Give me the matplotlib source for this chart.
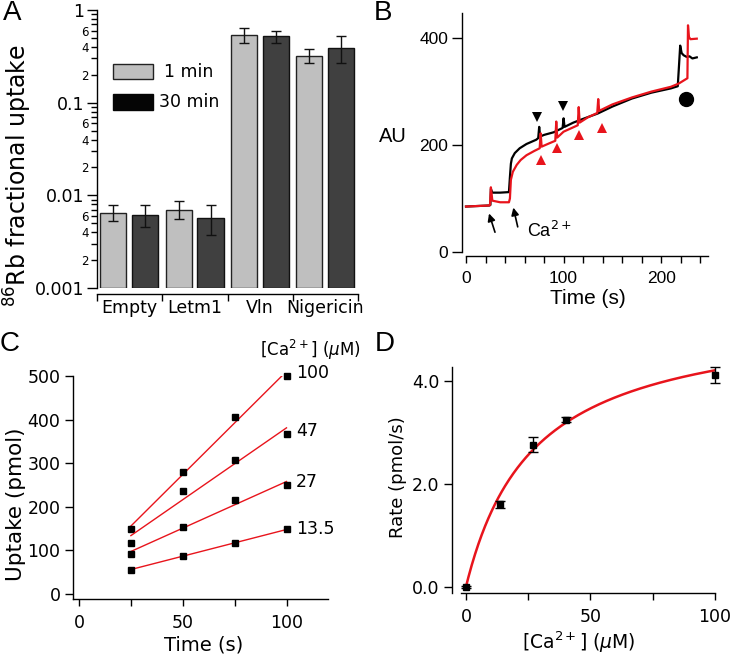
import numpy as np
import matplotlib
matplotlib.use("Agg")
import matplotlib.pyplot as plt
from matplotlib import ticker
from matplotlib.patches import Rectangle

plt.rcParams["font.family"] = ["DejaVu Sans"]
plt.rcParams["axes.linewidth"] = 1.0

W, H = 733, 657
RED = "#e8141c"
LIGHT = "#bfbfbf"
DARK = "#404040"

# ---- panel A: 86Rb uptake (log scale)
groups = ["Empty", "Letm1", "Vln", "Nigericin"]
up_1min = [0.0064, 0.0069, 0.54, 0.32]
up_1min_lo = [0.0053, 0.0055, 0.44, 0.27]
up_1min_hi = [0.0078, 0.0086, 0.64, 0.38]
up_30min = [0.0061, 0.0057, 0.52, 0.39]
up_30min_lo = [0.0045, 0.0037, 0.44, 0.27]
up_30min_hi = [0.0079, 0.0079, 0.60, 0.52]

# ---- panel B: fluorescence traces
black_t = [0, 24, 25, 25.5, 27, 35, 44, 45, 46, 47, 50, 55, 62, 72, 74, 75, 76, 80,
           90, 99, 100, 101, 110, 120, 135, 150, 170, 190, 210, 217, 218, 219.5,
           221, 223, 226, 229, 232, 236.5]
black_v = [85, 87, 88, 118, 111, 111, 112, 140, 165, 175, 185, 194, 202, 210, 213, 234,
           216, 219, 224, 232, 250, 234, 242, 249, 259, 272, 287, 298, 306, 310,
           340, 386, 372, 368, 365, 366, 362, 364]
red_t = [0, 24, 24.6, 25.5, 27, 35, 44, 45, 46, 48, 52, 56, 62, 70, 75.5, 76.5, 77.5,
         85, 91.5, 92.5, 93.5, 100, 114.5, 115.5, 116.5, 125, 134.5, 135.5, 136.5,
         150, 170, 190, 210, 218, 226.9, 227.5, 228.5, 230, 236.5]
red_v = [85, 87, 88, 121, 96, 93, 93, 100, 135, 150, 163, 172, 181, 189, 194, 222, 197,
         203, 208, 244, 214, 225, 237, 271, 242, 252, 260, 286, 264, 276, 289, 300,
         309, 315, 325, 424, 402, 398, 399]
black_marks_t = [72.5, 99.8]
black_marks_v = [252, 273]
red_marks_t = [76.9, 93, 116.2, 139.1]
red_marks_v = [172, 194, 219, 231]
dot_t, dot_v = 225.6, 287

# ---- panel C: uptake vs time
time_c = [25, 50, 75, 100]
ca_levels = ["100", "47", "27", "13.5"]
uptake_100 = [148, 279, 406, 500]
uptake_47 = [117, 237, 308, 368]
uptake_27 = [92, 154, 215, 250]
uptake_13 = [56, 87, 117, 148]

# ---- panel D: rate vs [Ca2+]
ca_d = [0, 13.5, 27, 40, 100]
rate_d = [0.0, 1.60, 2.76, 3.25, 4.11]
rate_err = [0.02, 0.07, 0.15, 0.05, 0.16]
VMAX, KM = 5.35, 27.2


def box(x0, y0, x1, y1):
    return [x0 / W, 1 - y1 / H, (x1 - x0) / W, (y1 - y0) / H]


def fxy(x, y):
    return x / W, 1 - y / H


fig = plt.figure(figsize=(W / 100, H / 100), dpi=100)

# ================= A
axA = fig.add_axes(box(97, 10, 358, 288))
axA.set_yscale("log")
axA.set_ylim(0.001, 1)
axA.set_xlim(0, 4)
x = np.arange(len(groups))
b1 = np.array(up_1min)
b2 = np.array(up_30min)
axA.bar(x + 0.25, b1 - 0.001, bottom=0.001, width=0.4, color=LIGHT,
        edgecolor="#222222", linewidth=1)
axA.bar(x + 0.74, b2 - 0.001, bottom=0.001, width=0.4, color=DARK,
        edgecolor="#111111", linewidth=1)
axA.errorbar(x + 0.25, b1, yerr=[b1 - np.array(up_1min_lo), np.array(up_1min_hi) - b1],
             fmt="none", ecolor="#111111", elinewidth=1, capsize=3.5, capthick=1)
axA.errorbar(x + 0.74, b2, yerr=[b2 - np.array(up_30min_lo), np.array(up_30min_hi) - b2],
             fmt="none", ecolor="#111111", elinewidth=1, capsize=3.5, capthick=1)
for s in ["top", "right"]:
    axA.spines[s].set_visible(False)
axA.spines["bottom"].set_position(("outward", 4))
axA.set_xticks([0, 1, 2, 3, 4])
axA.set_xticklabels([])
axA.set_xticks(x + 0.5, minor=True)
axA.set_xticklabels(groups, minor=True, fontsize=12.5)
axA.tick_params(axis="x", which="major", direction="out", length=5, width=1)
axA.tick_params(axis="x", which="minor", length=0, pad=4)
axA.yaxis.set_major_locator(ticker.FixedLocator([0.001, 0.01, 0.1, 1]))
axA.yaxis.set_major_formatter(ticker.FixedFormatter(["0.001", "0.01", "0.1", "1"]))
axA.yaxis.set_minor_locator(ticker.LogLocator(base=10, subs=np.arange(2, 10)))


def minor_fmt(v, pos):
    m = round(v / 10 ** np.floor(np.log10(v) + 1e-9))
    return str(int(m)) if m in (2, 4, 6) else ""


axA.yaxis.set_minor_formatter(ticker.FuncFormatter(minor_fmt))
axA.tick_params(axis="y", which="major", direction="out", length=7, width=1, labelsize=12.5, pad=2)
axA.tick_params(axis="y", which="minor", direction="out", length=4, width=1, labelsize=8.5, pad=2)
fig.text(*fxy(18, 176), "$^{86}$Rb fractional uptake", rotation=90, ha="center",
         va="center", fontsize=17)

# legend
fig.patches.append(Rectangle(fxy(113, 79), 40 / W, 15 / H, transform=fig.transFigure,
                             facecolor=LIGHT, edgecolor="#222222", lw=1))
fig.patches.append(Rectangle(fxy(113, 110), 40 / W, 16 / H, transform=fig.transFigure,
                             facecolor="#050505", edgecolor="#050505", lw=1))
fig.text(*fxy(189, 72), "1 min", ha="center", va="center", fontsize=12.5)
fig.text(*fxy(189, 102), "30 min", ha="center", va="center", fontsize=12.5)

# ================= B
LIB = "Liberation Sans"
axB = fig.add_axes(box(462, 13, 708, 256))
axB.plot(black_t, black_v, color="black", lw=1.6)
axB.plot(red_t, red_v, color=RED, lw=1.6)
axB.plot(black_marks_t, black_marks_v, "v", color="black", ms=6.5, mew=0)
axB.plot(red_marks_t, red_marks_v, "^", color=RED, ms=6.5, mew=0)
axB.plot([dot_t], [dot_v], "o", color="black", ms=10)
axB.set_xlim(-4.1, 248)
axB.set_ylim(-7.5, 447)
for s in ["top", "right"]:
    axB.spines[s].set_visible(False)
axB.spines["bottom"].set_bounds(0, 248)
axB.spines["left"].set_bounds(0, 447)
axB.set_xticks([0, 100, 200])
axB.xaxis.set_minor_locator(ticker.MultipleLocator(20))
axB.set_yticks([0, 200, 400])
axB.tick_params(axis="both", which="major", labelsize=12.5, labelfontfamily=LIB)
axB.tick_params(axis="x", which="both", direction="out", length=5, width=1, pad=6)
axB.tick_params(axis="y", direction="out", length=7, width=1, pad=3)
arrow_kw = dict(arrowstyle="-|>", color="black", lw=1.2, mutation_scale=11,
                shrinkA=0, shrinkB=0)
axB.annotate("", xy=(23.6, 72), xytext=(29.7, 37), arrowprops=arrow_kw)
axB.annotate("", xy=(48.5, 83), xytext=(53, 47), arrowprops=arrow_kw)
axB.text(63, 40, "Ca$^{2+}$", fontsize=13, family=LIB, va="center")
fig.text(*fxy(393, 137), "AU", ha="center", va="center", fontsize=14.5, family=LIB)
fig.text(*fxy(588, 299), "Time (s)", ha="center", va="center", fontsize=15, family=LIB)

# ================= C
axC = fig.add_axes(box(73, 376, 328, 599))
series_c = [uptake_100, uptake_47, uptake_27, uptake_13]
offsets_c = [7, 6, 7, 1]
tc = np.array(time_c)
for vals, lab, off in zip(series_c, ca_levels, offsets_c):
    k, c0 = np.polyfit(tc, vals, 1)
    axC.plot([tc[0], tc[-1]], [k * tc[0] + c0, k * tc[-1] + c0], color=RED, lw=1)
    axC.plot(tc, vals, "s", color="black", ms=5, clip_on=False)
    axC.text(104.5, vals[-1] + off, lab, fontsize=12.5, va="center")
axC.set_xlim(-2.9, 120)
axC.set_ylim(-11.5, 500)
for s in ["top", "right"]:
    axC.spines[s].set_visible(False)
axC.set_xticks([0, 50, 100])
axC.xaxis.set_minor_locator(ticker.FixedLocator([25, 75]))
axC.set_yticks(np.arange(0, 501, 100))
axC.tick_params(axis="both", which="major", labelsize=12.5)
axC.tick_params(axis="x", which="both", direction="out", length=5, width=1, pad=6)
axC.tick_params(axis="y", direction="out", length=6, width=1, pad=3)
fig.text(*fxy(310, 350), r"[Ca$^{2+}$] ($\mu$M)", ha="center", va="center", fontsize=12)
fig.text(*fxy(16, 504), "Uptake (pmol)", rotation=90, ha="center", va="center", fontsize=15.5)
fig.text(*fxy(204, 645), "Time (s)", ha="center", va="center", fontsize=14)

# ================= D
axD = fig.add_axes(box(452, 367, 715, 593))
xs = np.linspace(0, 100, 300)
axD.plot(xs, VMAX * xs / (KM + xs), color=RED, lw=1.8)
axD.errorbar(ca_d, rate_d, yerr=rate_err, fmt="s", color="black", ms=4.5,
             elinewidth=1, capsize=3.5, capthick=1, clip_on=False)
axD.set_xlim(-5.6, 100)
axD.set_ylim(-0.12, 4.27)
for s in ["top", "right"]:
    axD.spines[s].set_visible(False)
axD.spines["bottom"].set_bounds(-2, 100)
axD.set_xticks([0, 50, 100])
axD.xaxis.set_minor_locator(ticker.FixedLocator([25, 75]))
axD.set_yticks([0, 2, 4])
axD.yaxis.set_major_formatter(ticker.FormatStrFormatter("%.1f"))
axD.tick_params(axis="both", which="major", labelsize=12.5)
axD.tick_params(axis="x", which="both", direction="out", length=5, width=1, pad=6)
axD.tick_params(axis="y", direction="out", length=6, width=1, pad=3)
fig.text(*fxy(398, 477), "Rate (pmol/s)", rotation=90, ha="center", va="center", fontsize=13)
fig.text(*fxy(579, 642), r"[Ca$^{2+}$] ($\mu$M)", ha="center", va="center", fontsize=13.5)

# panel letters
for lab, px, py in [("A", 12, 13), ("B", 383, 13), ("C", 10, 344), ("D", 385, 344)]:
    fig.text(*fxy(px, py), lab, ha="center", va="center", fontsize=20, family=LIB)

fig.savefig("out.png", dpi=100)
